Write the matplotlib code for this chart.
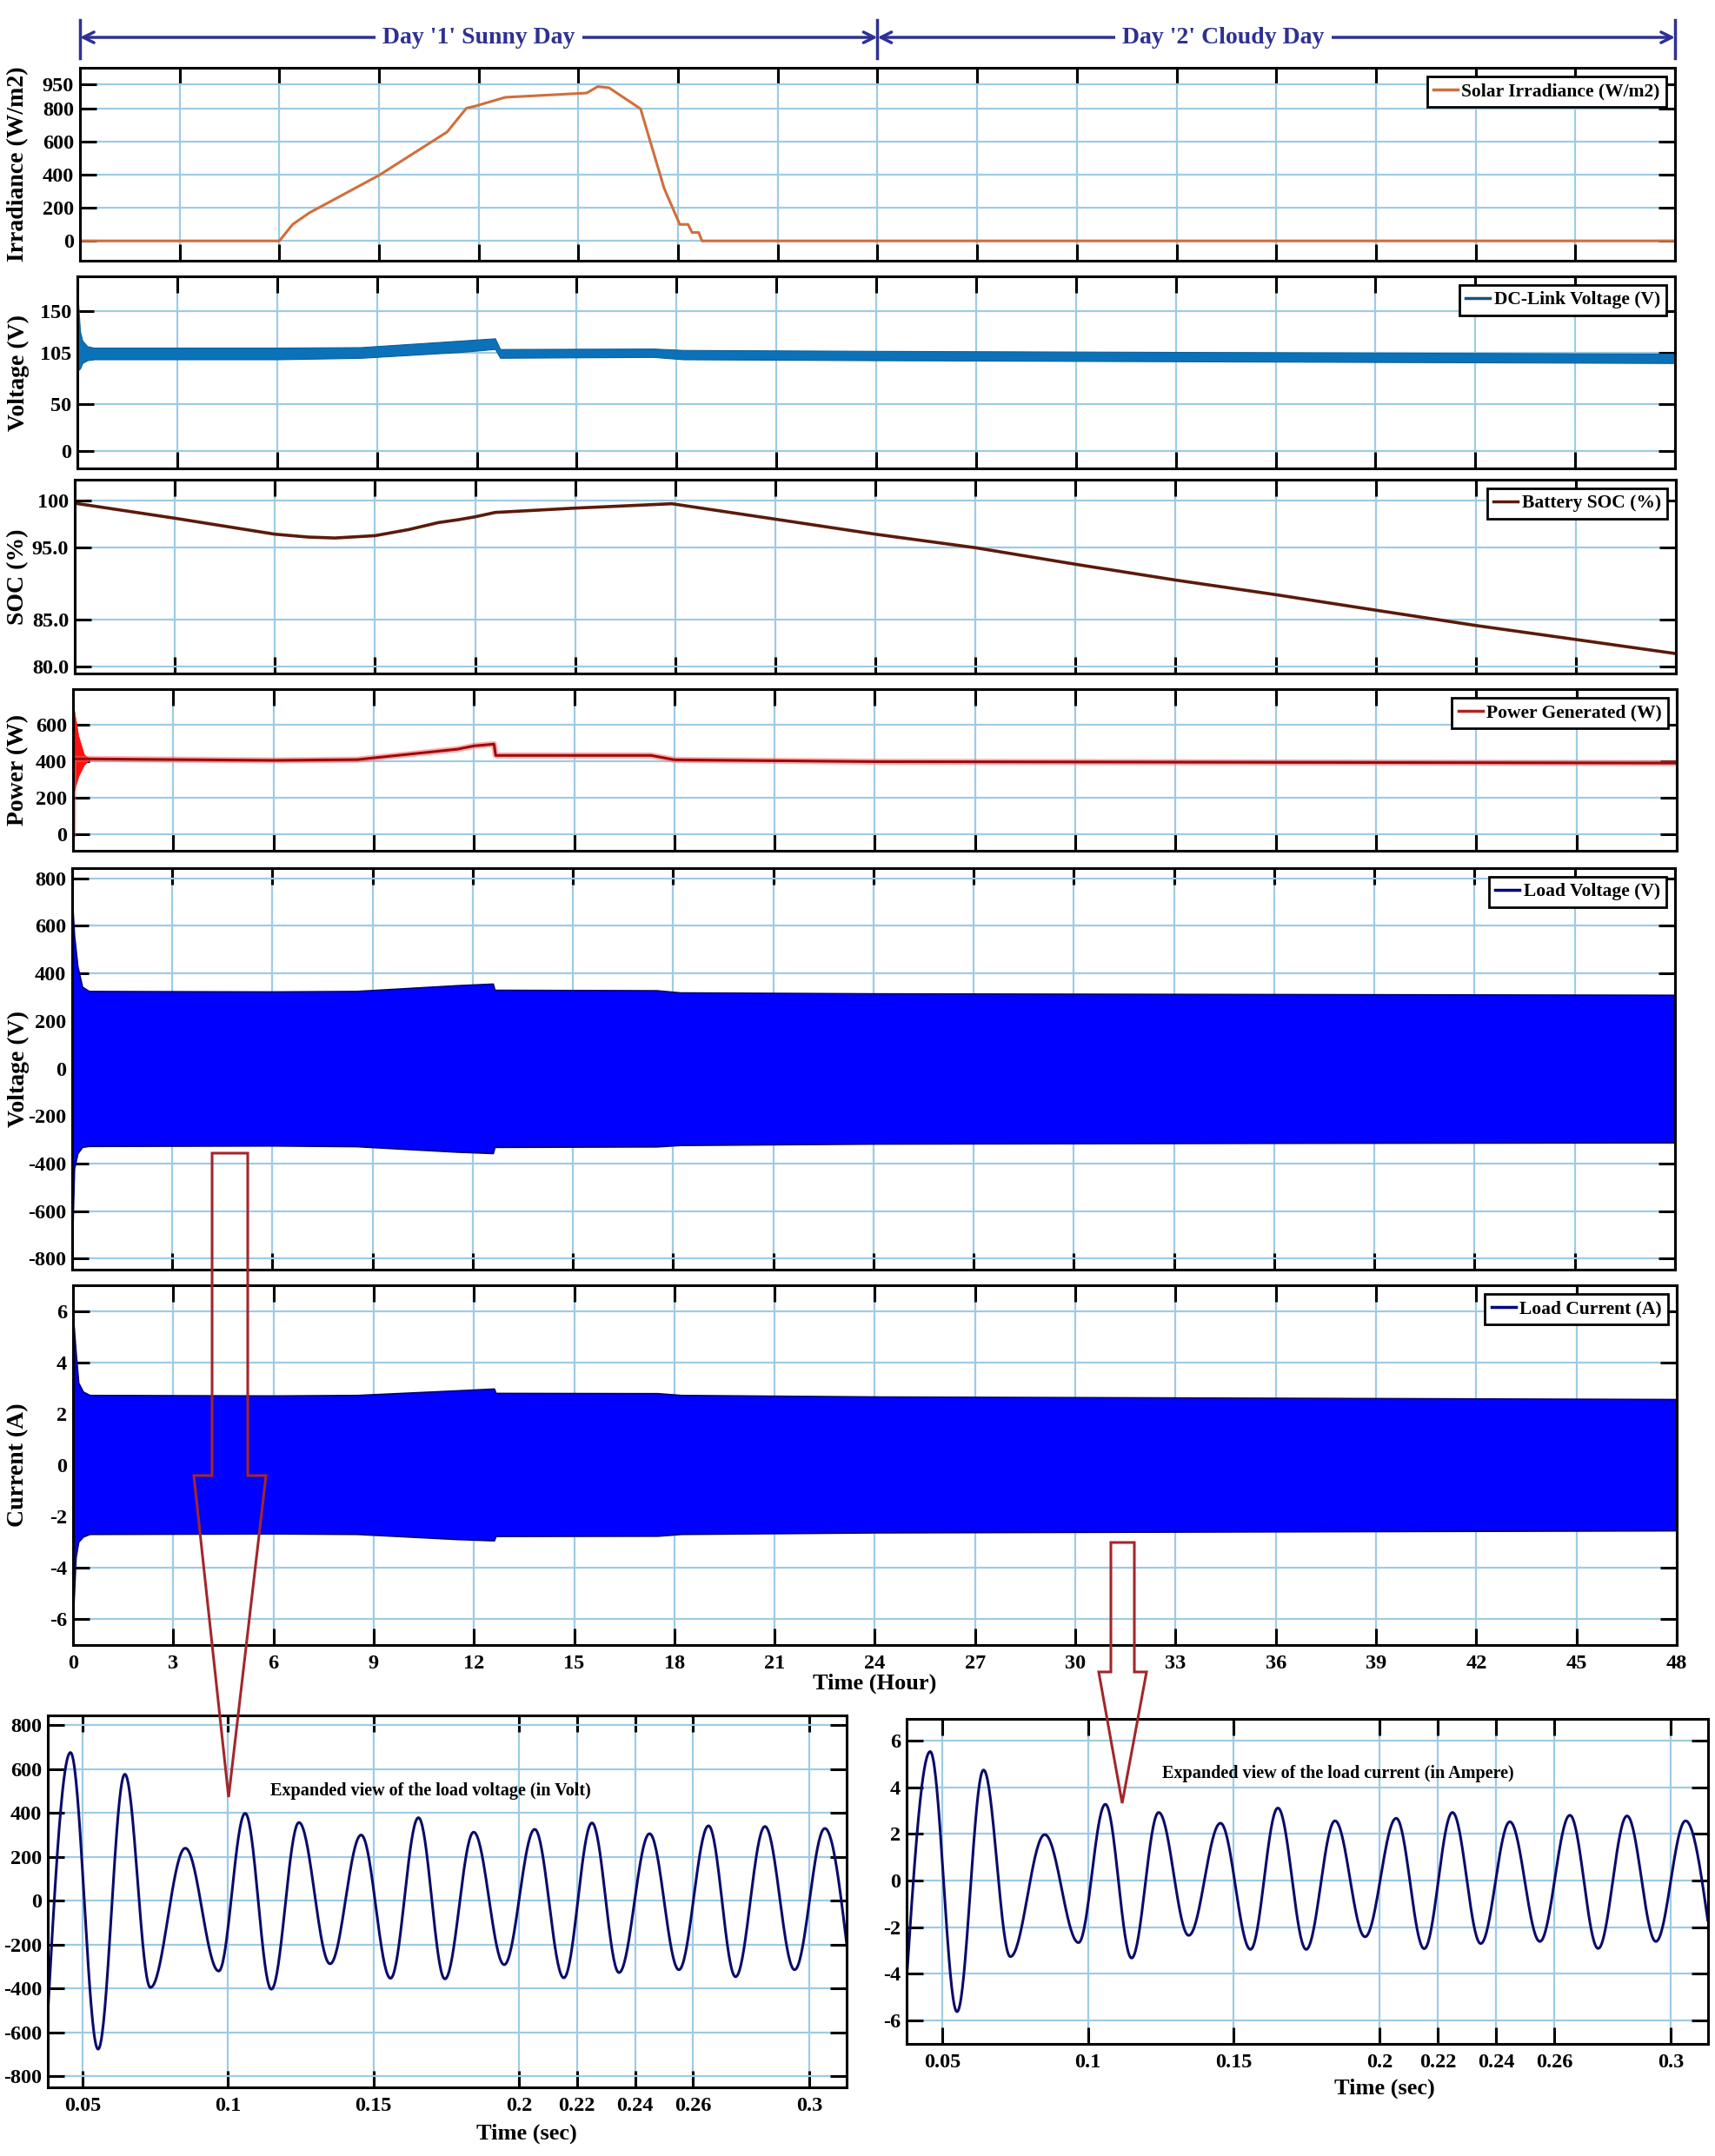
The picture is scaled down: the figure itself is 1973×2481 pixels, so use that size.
import numpy as np
import matplotlib
matplotlib.use("Agg")
import matplotlib.pyplot as plt
from matplotlib.lines import Line2D
from matplotlib.patches import Polygon

plt.rcParams['font.family'] = ['Liberation Serif', 'DejaVu Serif']
plt.rcParams['font.weight'] = 'bold'
plt.rcParams['axes.labelweight'] = 'bold'
plt.rcParams['axes.unicode_minus'] = False

# ---------------- data ----------------
HOUR_TICKS = list(range(0, 49, 3))

IR_T = [0, 6.0, 6.4, 6.9, 9.0, 11.05, 11.63, 11.92, 12.8, 15.25, 15.58, 15.92, 16.87, 17.58, 18.05, 18.3, 18.42, 18.62, 18.72, 48]
IR_V = [0, 0, 100, 170, 398, 661, 805, 819, 871, 897, 936, 929, 801, 319, 100, 100, 51, 51, 0, 0]

DC_T = [0, 0.01, 0.08, 0.15, 0.3, 0.5, 6, 8.5, 11.5, 12.55, 12.7, 17.3, 18.2, 24, 48]
DC_UP = [0, 166, 128, 118, 112, 110.5, 110.5, 111, 118, 120.5, 109, 109.5, 108, 107, 104]
DC_LO = [0, 86, 88, 94, 97, 98, 98, 99.5, 105.8, 109, 99.6, 100.5, 98, 97, 94]

SOC_T = [0, 3, 6, 7, 7.8, 9, 10, 10.9, 11.5, 12, 12.6, 15, 17.9, 21, 24, 27, 30, 33, 36, 39, 42, 45, 48]
SOC_V = [99.75, 98.13, 96.41, 96.1, 96.0, 96.25, 96.9, 97.66, 97.97, 98.28, 98.75, 99.22, 99.69, 98.03, 96.41,
         94.94, 92.66, 90.48, 88.47, 86.33, 84.39, 82.88, 81.36]

PW_T = [0, 0.01, 0.5, 6, 8.5, 11.5, 12.0, 12.6, 12.65, 17.3, 18.0, 24, 48]
PW_V = [0, 413, 413, 405, 409, 466, 484, 494, 432, 432, 408, 398, 390]
PT_T = [0, 0.01, 0.16, 0.33, 0.5]
PT_UP = [0, 705, 540, 437, 415]
PT_LO = [0, 222, 317, 381, 410]

LV_T = [0, 0.01, 0.06, 0.16, 0.3, 0.5, 3, 6, 8.5, 11.5, 12.6, 12.65, 17.5, 18.2, 24, 36, 48]
LV_UP = [0, 680, 560, 430, 344, 326, 325, 324, 326, 350, 357, 331, 329, 320, 316, 313, 310]
LV_LO = [0, -680, -420, -357, -330, -326, -325, -324, -327, -350, -356, -330, -328, -322, -316, -313, -311]

LC_T = [0, 0.01, 0.08, 0.16, 0.3, 0.5, 6, 8.5, 11.5, 12.6, 12.65, 17.5, 18.2, 24, 48]
LC_UP = [0, 5.6, 4.4, 3.2, 2.85, 2.72, 2.70, 2.72, 2.9, 2.97, 2.80, 2.79, 2.72, 2.66, 2.56]
LC_LO = [0, -5.6, -3.6, -3.0, -2.8, -2.70, -2.68, -2.7, -2.9, -2.95, -2.78, -2.77, -2.70, -2.64, -2.56]

# expanded views: extrema (time s, value)
EV_T = [0.038, 0.0458, 0.0553, 0.0645, 0.0733, 0.0853, 0.0968, 0.1059, 0.1149, 0.1244, 0.1351, 0.1458, 0.1559,
        0.1655, 0.1746, 0.1845, 0.195, 0.2055, 0.2155, 0.2252, 0.2345, 0.245, 0.2551, 0.2653, 0.2746, 0.2847,
        0.2949, 0.3053, 0.3128]
EV_V = [-513, 675, -677, 576, -396, 239, -321, 398, -404, 356, -288, 299, -354, 378, -357, 312, -292, 325, -352,
        354, -328, 305, -315, 341, -347, 338, -315, 329, -196]
EC_T = [0.0378, 0.0459, 0.0551, 0.0642, 0.0734, 0.0852, 0.0968, 0.106, 0.115, 0.1243, 0.1346, 0.1455, 0.1558,
        0.1652, 0.1749, 0.1848, 0.1951, 0.2058, 0.2154, 0.2251, 0.2348, 0.2448, 0.2551, 0.2654, 0.2751, 0.285,
        0.2949, 0.3051, 0.3127]
EC_V = [-4.25, 5.53, -5.62, 4.74, -3.26, 1.97, -2.66, 3.27, -3.32, 2.92, -2.35, 2.46, -2.95, 3.11, -2.95, 2.56,
        -2.41, 2.67, -2.92, 2.92, -2.70, 2.52, -2.61, 2.80, -2.91, 2.77, -2.61, 2.56, -1.70]
SEC_TICKS = [0.05, 0.1, 0.15, 0.2, 0.22, 0.24, 0.26, 0.3]
SEC_LABELS = ['0.05', '0.1', '0.15', '0.2', '0.22', '0.24', '0.26', '0.3']

# ---------------- figure ----------------
W, H = 1974, 2481
fig = plt.figure(figsize=(W / 100, H / 100), dpi=100)
fig.patch.set_facecolor('white')

GRID = '#9ECBE5'
NAVY = '#2E3192'
ARROW = '#A3262A'


def add_ax(l, t, r, b):
    return fig.add_axes([l / W, 1 - b / H, (r - l) / W, (b - t) / H])


def style(ax, bottom_labels=False):
    for s in ax.spines.values():
        s.set_linewidth(2.2)
        s.set_color('black')
        s.set_zorder(5)
    ax.tick_params(direction='in', length=14, width=2.2, top=True, right=True,
                   labelsize=17.5, pad=5, labelbottom=bottom_labels)
    ax.grid(True, color=GRID, lw=1.6)
    ax.set_axisbelow(True)


def fig_text(x, y, s, **kw):
    fig.text(x / W, 1 - y / H, s, **kw)


def legend(ax, label, color):
    h = Line2D([], [], color=color, lw=2.5)
    lg = ax.legend([h], [label], loc='upper right', fontsize=15.5, frameon=True, fancybox=False,
                   framealpha=1, edgecolor='black', handlelength=1.3, handletextpad=0.2,
                   borderpad=0.35, borderaxespad=0.45)
    lg.get_frame().set_linewidth(2)
    lg.set_zorder(10)


def ylab(ax, text, left_px, width_px):
    ax.set_ylabel(text, fontsize=20)
    ax.yaxis.label.set_va('center')
    ax.yaxis.set_label_coords((21 - left_px) / width_px, 0.5)


panels = [(92, 78, 1927, 300), (89, 318, 1927, 539), (86, 552, 1928, 775),
          (84, 793, 1929, 979), (83, 999, 1927, 1461), (84, 1479, 1929, 1893)]
axs = [add_ax(*p) for p in panels]

# 1 irradiance
ax = axs[0]
style(ax)
ax.plot(IR_T, IR_V, color='#CF6F3C', lw=2.2)
ax.set_ylim(-120, 1050)
ax.set_yticks([0, 200, 400, 600, 800, 950])
legend(ax, 'Solar Irradiance (W/m2)', '#CF6F3C')
ylab(ax, 'Irradiance (W/m2)', panels[0][0], panels[0][2] - panels[0][0])

# 2 DC link
ax = axs[1]
style(ax)
ax.fill_between(DC_T, DC_LO, DC_UP, color='#0B72B9', lw=0.8, edgecolor='#0A5F9A')
ax.set_ylim(-19, 187)
ax.set_yticks([0, 50, 105, 150])
legend(ax, 'DC-Link Voltage (V)', '#1A5276')
ylab(ax, 'Voltage (V)', panels[1][0], panels[1][2] - panels[1][0])

# 3 SOC (axis with uneven label spacing as in the reference)
SV = np.array([80.0, 85.0, 95.0, 100.0])
SP = np.array([0.0, 160.0, 410.0, 570.0])


def soc_fwd(v):
    v = np.asarray(v, dtype=float)
    out = np.interp(v, SV, SP)
    out = np.where(v < 80, (v - 80) * 32.0, out)
    out = np.where(v > 100, 570.0 + (v - 100) * 32.0, out)
    return out


def soc_inv(p):
    p = np.asarray(p, dtype=float)
    out = np.interp(p, SP, SV)
    out = np.where(p < 0, 80 + p / 32.0, out)
    out = np.where(p > 570, 100 + (p - 570.0) / 32.0, out)
    return out


ax = axs[2]
style(ax)
ax.set_yscale('function', functions=(soc_fwd, soc_inv))
ax.plot(SOC_T, SOC_V, color='#5C1A0B', lw=2.6)
ax.set_ylim(79.22, 102.28)
ax.set_yticks([80, 85, 95, 100])
ax.set_yticklabels(['80.0', '85.0', '95.0', '100'])
ax.yaxis.set_minor_locator(matplotlib.ticker.NullLocator())
legend(ax, 'Battery SOC (%)', '#5C1A0B')
ylab(ax, 'SOC (%)', panels[2][0], panels[2][2] - panels[2][0])

# 4 power
ax = axs[3]
style(ax)
ax.fill_between(PT_T, PT_LO, PT_UP, color='#FF1010', lw=0.5)
ax.plot(PW_T, PW_V, color='#FF6060', lw=5, alpha=0.5)
ax.plot(PW_T, PW_V, color='#A00808', lw=2.2)
ax.set_ylim(-90, 795)
ax.set_yticks([0, 200, 400, 600])
legend(ax, 'Power Generated (W)', '#B22222')
ylab(ax, 'Power (W)', panels[3][0], panels[3][2] - panels[3][0])

# 5 load voltage
ax = axs[4]
style(ax)
ax.fill_between(LV_T, LV_LO, LV_UP, facecolor='#0000FF', edgecolor='#000070', lw=1.2)
ax.set_ylim(-846, 843)
ax.set_yticks(list(range(-800, 801, 200)))
legend(ax, 'Load Voltage (V)', '#000080')
ylab(ax, 'Voltage (V)', panels[4][0], panels[4][2] - panels[4][0])

# 6 load current
ax = axs[5]
style(ax, bottom_labels=True)
ax.fill_between(LC_T, LC_LO, LC_UP, facecolor='#0000FF', edgecolor='#000070', lw=1.2)
ax.set_ylim(-7.03, 7.0)
ax.set_yticks(list(range(-6, 7, 2)))
legend(ax, 'Load Current (A)', '#000080')
ylab(ax, 'Current (A)', panels[5][0], panels[5][2] - panels[5][0])
ax.tick_params(axis='x', pad=8)

for ax in axs:
    ax.set_xlim(0, 48)
    ax.set_xticks(HOUR_TICKS)

fig_text(1006, 1937, 'Time (Hour)', fontsize=19, ha='center', va='center')


# expanded views
def wave(ts, vs, n=40):
    T, V = [], []
    m = len(ts) - 1
    for i in range(m):
        s = np.linspace(0, 1, n, endpoint=(i == m - 1))
        if i == 0:
            sh = np.sin(np.pi / 2 * s)
        elif i == m - 1:
            sh = 1 - np.cos(np.pi / 2 * s)
        else:
            sh = (1 - np.cos(np.pi * s)) / 2
        T.append(ts[i] + (ts[i + 1] - ts[i]) * s)
        V.append(vs[i] + (vs[i + 1] - vs[i]) * sh)
    return np.concatenate(T), np.concatenate(V)


e1 = add_ax(55, 1974, 974, 2402)
style(e1, bottom_labels=True)
t, v = wave(EV_T, EV_V)
e1.plot(t, v, color='#0B0B6B', lw=2.2)
e1.set_xlim(0.038, 0.3128)
e1.set_ylim(-851, 844)
e1.set_yticks(list(range(-800, 801, 200)))
e1.set_xticks(SEC_TICKS)
e1.set_xticklabels(SEC_LABELS)
e1.tick_params(axis='x', pad=8)

e2 = add_ax(1043, 1978, 1965, 2352)
style(e2, bottom_labels=True)
t, v = wave(EC_T, EC_V)
e2.plot(t, v, color='#0B0B6B', lw=2.2)
e2.set_xlim(0.0378, 0.3128)
e2.set_ylim(-7.0, 6.93)
e2.set_yticks(list(range(-6, 7, 2)))
e2.set_xticks(SEC_TICKS)
e2.set_xticklabels(SEC_LABELS)
e2.tick_params(axis='x', pad=8)

fig_text(606, 2455, 'Time (sec)', fontsize=19, ha='center', va='center')
fig_text(1593, 2403, 'Time (sec)', fontsize=19, ha='center', va='center')
fig_text(495, 2061, 'Expanded view of the load voltage (in Volt)', fontsize=14.5, ha='center', va='center')
fig_text(1539, 2041, 'Expanded view of the load current (in Ampere)', fontsize=14.5, ha='center', va='center')

# header
hd = add_ax(92, 15, 1927, 75)
hd.set_xlim(0, 48)
hd.set_ylim(0, 1)
hd.axis('off')
for x in [0, 24, 48]:
    hd.plot([x, x], [0.13, 0.87], color=NAVY, lw=2.5, clip_on=False)
for a, b in [(0, 24), (24, 48)]:
    hd.annotate('', xy=(a, 0.533), xytext=(b, 0.533),
                arrowprops=dict(arrowstyle='<->', color=NAVY, lw=2.5, shrinkA=0, shrinkB=0,
                                mutation_scale=22))
hd.text(12, 0.533, "Day '1' Sunny Day", color=NAVY, fontsize=20, ha='center', va='center',
        bbox=dict(facecolor='white', edgecolor='none', pad=6))
hd.text(34.4, 0.533, "Day '2' Cloudy Day", color=NAVY, fontsize=20, ha='center', va='center',
        bbox=dict(facecolor='white', edgecolor='none', pad=6))


# red block arrows
def px(pts):
    return [(x / W, 1 - y / H) for x, y in pts]


arrow1 = [(244, 1327), (285, 1327), (285, 1698), (306, 1698), (263, 2068), (223, 1698), (244, 1698)]
arrow2 = [(1278, 1775), (1305, 1775), (1305, 1924), (1319, 1924), (1291, 2075), (1264, 1924), (1278, 1924)]
for pts in (arrow1, arrow2):
    fig.add_artist(Polygon(px(pts), closed=True, fill=False, edgecolor=ARROW, lw=2.2,
                           transform=fig.transFigure, zorder=20))

fig.savefig('out.png', dpi=100, facecolor='white')
